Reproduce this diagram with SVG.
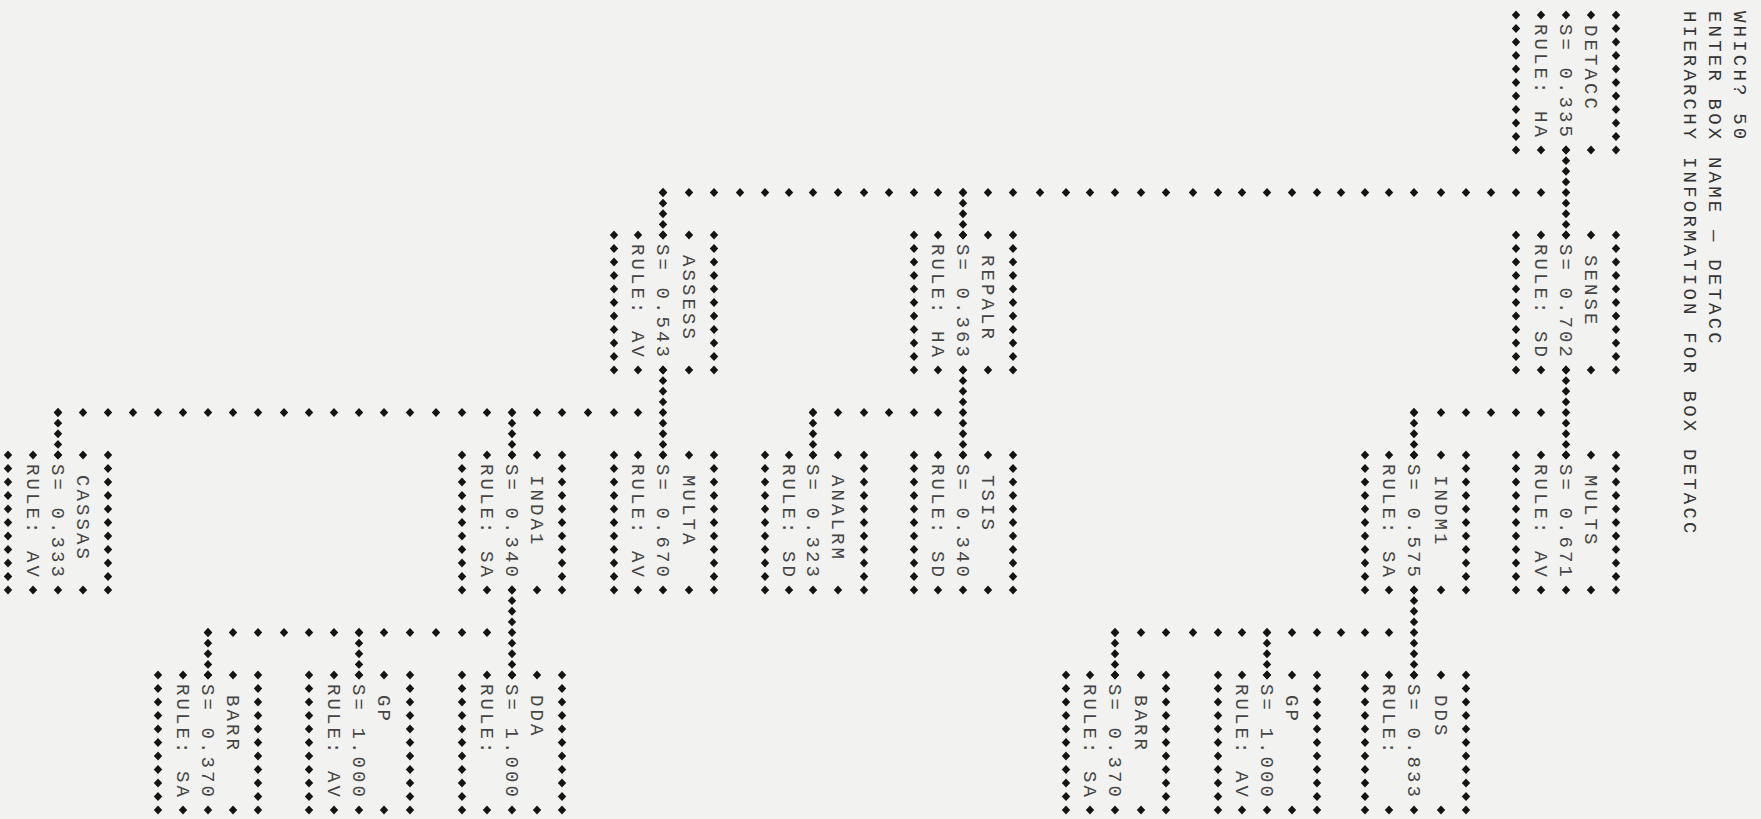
<svg xmlns="http://www.w3.org/2000/svg" width="1761" height="819" viewBox="0 0 1761 819">
<defs>
<marker id="d" viewBox="-5 -5 10 10" markerWidth="10" markerHeight="10" refX="0" refY="0" markerUnits="userSpaceOnUse" orient="0" overflow="visible"><path d="M-4.2 0 L0 -4.4 L4.2 0 L0 4.4 Z" fill="#141414"/></marker>
</defs>
<style>
.m{fill:none;stroke:none;marker:url(#d);}
.t{font-family:"Liberation Mono","DejaVu Sans Mono",monospace;font-size:19px;letter-spacing:3.1px;fill:#454545;}
.h{font-family:"Liberation Mono","DejaVu Sans Mono",monospace;font-size:19px;letter-spacing:3.2px;fill:#353535;}
</style>
<rect width="1761" height="819" fill="#f2f2f0"/>
<g id="header">
<text class="h" transform="translate(1734,11) rotate(90)">WHICH? 50</text>
<text class="h" transform="translate(1709,11) rotate(90)">ENTER BOX NAME — DETACC</text>
<text class="h" transform="translate(1684,11) rotate(90)">HIERARCHY INFORMATION FOR BOX DETACC</text>
</g>
<g id="connectors">
<path class="m" d="M1566 150 v10.625v10.625v10.625v10.625v10.625v10.625v10.625v10.625 M1566 370 v10.625v10.625v10.625v10.625v10.625v10.625v10.625v10.625 M1414 412.5 v10.625v10.625v10.625v10.625 M1414 590 v10.625v10.625v10.625v10.625v10.625v10.625v10.625v10.625 M1267 632.5 v10.625v10.625v10.625v10.625 M1115 632.5 v10.625v10.625v10.625v10.625 M963 192.5 v10.625v10.625v10.625v10.625 M963 370 v10.625v10.625v10.625v10.625v10.625v10.625v10.625v10.625 M813 412.5 v10.625v10.625v10.625v10.625 M663 192.5 v10.625v10.625v10.625v10.625 M663 370 v10.625v10.625v10.625v10.625v10.625v10.625v10.625v10.625 M512 412.5 v10.625v10.625v10.625v10.625 M512 590 v10.625v10.625v10.625v10.625v10.625v10.625v10.625v10.625 M359 632.5 v10.625v10.625v10.625v10.625 M208 632.5 v10.625v10.625v10.625v10.625 M58 412.5 v10.625v10.625v10.625v10.625"/>
<path class="m" d="M1541 192.5 H1516 H1491 H1466 H1441 H1414 H1389 H1365 H1341 H1317 H1292 H1267 H1242 H1218 H1193 H1166 H1141 H1115 H1090 H1066 H1040 H1013 H988 H963 H938 H914 H889 H864 H838 H813 H789 H765 H740 H714 H689 H663"/>
<path class="m" d="M1541 412.5 H1516 H1491 H1466 H1441 H1414 M938 412.5 H914 H889 H864 H838 H813 M638 412.5 H614 H588 H562 H537 H512 H487 H462 H436 H410 H384 H359 H334 H309 H284 H258 H233 H208 H183 H158 H133 H108 H83 H58"/>
<path class="m" d="M1389 632.5 H1365 H1341 H1317 H1292 H1267 H1242 H1218 H1193 H1166 H1141 H1115 M487 632.5 H462 H436 H410 H384 H359 H334 H309 H284 H258 H233 H208"/>
</g>
<g id="detacc">
<path class="m" d="M1616 15 v13.5v13.5v13.5v13.5v13.5v13.5v13.5v13.5v13.5v13.5 M1591 15 v135 M1566 15 v135 M1541 15 v135 M1516 15 v13.5v13.5v13.5v13.5v13.5v13.5v13.5v13.5v13.5v13.5"/>
<text class="t" transform="translate(1585,25) rotate(90)">DETACC</text>
<text class="t" transform="translate(1560,24) rotate(90)">S= 0.335</text>
<text class="t" transform="translate(1535,24) rotate(90)">RULE: HA</text>
</g>
<g id="sense">
<path class="m" d="M1616 235 v13.5v13.5v13.5v13.5v13.5v13.5v13.5v13.5v13.5v13.5 M1591 235 v135 M1566 235 v135 M1541 235 v135 M1516 235 v13.5v13.5v13.5v13.5v13.5v13.5v13.5v13.5v13.5v13.5"/>
<text class="t" transform="translate(1585,255) rotate(90)">SENSE</text>
<text class="t" transform="translate(1560,244) rotate(90)">S= 0.702</text>
<text class="t" transform="translate(1535,244) rotate(90)">RULE: SD</text>
</g>
<g id="mults">
<path class="m" d="M1616 455 v13.5v13.5v13.5v13.5v13.5v13.5v13.5v13.5v13.5v13.5 M1591 455 v135 M1566 455 v135 M1541 455 v135 M1516 455 v13.5v13.5v13.5v13.5v13.5v13.5v13.5v13.5v13.5v13.5"/>
<text class="t" transform="translate(1585,475) rotate(90)">MULTS</text>
<text class="t" transform="translate(1560,464) rotate(90)">S= 0.671</text>
<text class="t" transform="translate(1535,464) rotate(90)">RULE: AV</text>
</g>
<g id="indm1">
<path class="m" d="M1466 455 v13.5v13.5v13.5v13.5v13.5v13.5v13.5v13.5v13.5v13.5 M1441 455 v135 M1414 455 v135 M1389 455 v135 M1365 455 v13.5v13.5v13.5v13.5v13.5v13.5v13.5v13.5v13.5v13.5"/>
<text class="t" transform="translate(1435,475) rotate(90)">INDM1</text>
<text class="t" transform="translate(1408,464) rotate(90)">S= 0.575</text>
<text class="t" transform="translate(1383,464) rotate(90)">RULE: SA</text>
</g>
<g id="dds">
<path class="m" d="M1466 675 v13.5v13.5v13.5v13.5v13.5v13.5v13.5v13.5v13.5v13.5 M1441 675 v135 M1414 675 v135 M1389 675 v135 M1365 675 v13.5v13.5v13.5v13.5v13.5v13.5v13.5v13.5v13.5v13.5"/>
<text class="t" transform="translate(1435,695) rotate(90)">DDS</text>
<text class="t" transform="translate(1408,684) rotate(90)">S= 0.833</text>
<text class="t" transform="translate(1383,684) rotate(90)">RULE:</text>
</g>
<g id="gp1">
<path class="m" d="M1317 675 v13.5v13.5v13.5v13.5v13.5v13.5v13.5v13.5v13.5v13.5 M1292 675 v135 M1267 675 v135 M1242 675 v135 M1218 675 v13.5v13.5v13.5v13.5v13.5v13.5v13.5v13.5v13.5v13.5"/>
<text class="t" transform="translate(1286,695) rotate(90)">GP</text>
<text class="t" transform="translate(1261,684) rotate(90)">S= 1.000</text>
<text class="t" transform="translate(1236,684) rotate(90)">RULE: AV</text>
</g>
<g id="barr1">
<path class="m" d="M1166 675 v13.5v13.5v13.5v13.5v13.5v13.5v13.5v13.5v13.5v13.5 M1141 675 v135 M1115 675 v135 M1090 675 v135 M1066 675 v13.5v13.5v13.5v13.5v13.5v13.5v13.5v13.5v13.5v13.5"/>
<text class="t" transform="translate(1135,695) rotate(90)">BARR</text>
<text class="t" transform="translate(1109,684) rotate(90)">S= 0.370</text>
<text class="t" transform="translate(1084,684) rotate(90)">RULE: SA</text>
</g>
<g id="repalr">
<path class="m" d="M1013 235 v13.5v13.5v13.5v13.5v13.5v13.5v13.5v13.5v13.5v13.5 M988 235 v135 M963 235 v135 M938 235 v135 M914 235 v13.5v13.5v13.5v13.5v13.5v13.5v13.5v13.5v13.5v13.5"/>
<text class="t" transform="translate(982,255) rotate(90)">REPALR</text>
<text class="t" transform="translate(957,244) rotate(90)">S= 0.363</text>
<text class="t" transform="translate(932,244) rotate(90)">RULE: HA</text>
</g>
<g id="tsis">
<path class="m" d="M1013 455 v13.5v13.5v13.5v13.5v13.5v13.5v13.5v13.5v13.5v13.5 M988 455 v135 M963 455 v135 M938 455 v135 M914 455 v13.5v13.5v13.5v13.5v13.5v13.5v13.5v13.5v13.5v13.5"/>
<text class="t" transform="translate(982,475) rotate(90)">TSIS</text>
<text class="t" transform="translate(957,464) rotate(90)">S= 0.340</text>
<text class="t" transform="translate(932,464) rotate(90)">RULE: SD</text>
</g>
<g id="analrm">
<path class="m" d="M864 455 v13.5v13.5v13.5v13.5v13.5v13.5v13.5v13.5v13.5v13.5 M838 455 v135 M813 455 v135 M789 455 v135 M765 455 v13.5v13.5v13.5v13.5v13.5v13.5v13.5v13.5v13.5v13.5"/>
<text class="t" transform="translate(832,475) rotate(90)">ANALRM</text>
<text class="t" transform="translate(807,464) rotate(90)">S= 0.323</text>
<text class="t" transform="translate(783,464) rotate(90)">RULE: SD</text>
</g>
<g id="assess">
<path class="m" d="M714 235 v13.5v13.5v13.5v13.5v13.5v13.5v13.5v13.5v13.5v13.5 M689 235 v135 M663 235 v135 M638 235 v135 M614 235 v13.5v13.5v13.5v13.5v13.5v13.5v13.5v13.5v13.5v13.5"/>
<text class="t" transform="translate(683,255) rotate(90)">ASSESS</text>
<text class="t" transform="translate(657,244) rotate(90)">S= 0.543</text>
<text class="t" transform="translate(632,244) rotate(90)">RULE: AV</text>
</g>
<g id="multa">
<path class="m" d="M714 455 v13.5v13.5v13.5v13.5v13.5v13.5v13.5v13.5v13.5v13.5 M689 455 v135 M663 455 v135 M638 455 v135 M614 455 v13.5v13.5v13.5v13.5v13.5v13.5v13.5v13.5v13.5v13.5"/>
<text class="t" transform="translate(683,475) rotate(90)">MULTA</text>
<text class="t" transform="translate(657,464) rotate(90)">S= 0.670</text>
<text class="t" transform="translate(632,464) rotate(90)">RULE: AV</text>
</g>
<g id="inda1">
<path class="m" d="M562 455 v13.5v13.5v13.5v13.5v13.5v13.5v13.5v13.5v13.5v13.5 M537 455 v135 M512 455 v135 M487 455 v135 M462 455 v13.5v13.5v13.5v13.5v13.5v13.5v13.5v13.5v13.5v13.5"/>
<text class="t" transform="translate(531,475) rotate(90)">INDA1</text>
<text class="t" transform="translate(506,464) rotate(90)">S= 0.340</text>
<text class="t" transform="translate(481,464) rotate(90)">RULE: SA</text>
</g>
<g id="dda">
<path class="m" d="M562 675 v13.5v13.5v13.5v13.5v13.5v13.5v13.5v13.5v13.5v13.5 M537 675 v135 M512 675 v135 M487 675 v135 M462 675 v13.5v13.5v13.5v13.5v13.5v13.5v13.5v13.5v13.5v13.5"/>
<text class="t" transform="translate(531,695) rotate(90)">DDA</text>
<text class="t" transform="translate(506,684) rotate(90)">S= 1.000</text>
<text class="t" transform="translate(481,684) rotate(90)">RULE:</text>
</g>
<g id="gp2">
<path class="m" d="M410 675 v13.5v13.5v13.5v13.5v13.5v13.5v13.5v13.5v13.5v13.5 M384 675 v135 M359 675 v135 M334 675 v135 M309 675 v13.5v13.5v13.5v13.5v13.5v13.5v13.5v13.5v13.5v13.5"/>
<text class="t" transform="translate(378,695) rotate(90)">GP</text>
<text class="t" transform="translate(353,684) rotate(90)">S= 1.000</text>
<text class="t" transform="translate(328,684) rotate(90)">RULE: AV</text>
</g>
<g id="barr2">
<path class="m" d="M258 675 v13.5v13.5v13.5v13.5v13.5v13.5v13.5v13.5v13.5v13.5 M233 675 v135 M208 675 v135 M183 675 v135 M158 675 v13.5v13.5v13.5v13.5v13.5v13.5v13.5v13.5v13.5v13.5"/>
<text class="t" transform="translate(227,695) rotate(90)">BARR</text>
<text class="t" transform="translate(202,684) rotate(90)">S= 0.370</text>
<text class="t" transform="translate(177,684) rotate(90)">RULE: SA</text>
</g>
<g id="cassas">
<path class="m" d="M108 455 v13.5v13.5v13.5v13.5v13.5v13.5v13.5v13.5v13.5v13.5 M83 455 v135 M58 455 v135 M33 455 v135 M8 455 v13.5v13.5v13.5v13.5v13.5v13.5v13.5v13.5v13.5v13.5"/>
<text class="t" transform="translate(77,475) rotate(90)">CASSAS</text>
<text class="t" transform="translate(52,464) rotate(90)">S= 0.333</text>
<text class="t" transform="translate(27,464) rotate(90)">RULE: AV</text>
</g>
</svg>
